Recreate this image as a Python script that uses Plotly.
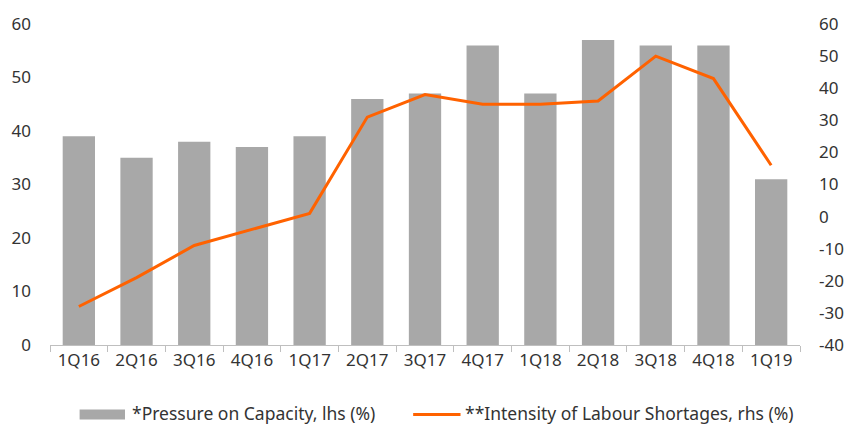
import plotly.graph_objects as go

quarters = ["1Q16", "2Q16", "3Q16", "4Q16", "1Q17", "2Q17", "3Q17",
            "4Q17", "1Q18", "2Q18", "3Q18", "4Q18", "1Q19"]
pressure_on_capacity = [39, 35, 38, 37, 39, 46, 47, 56, 47, 57, 56, 56, 31]
labour_shortages = [-28, -19, -9, -4, 1, 31, 38, 35, 35, 36, 50, 43, 16]
rhs_ticks = list(range(-40, 61, 10))

bar_name = "*Pressure on Capacity, lhs (%)"
line_name = "**Intensity of Labour Shortages, rhs (%)"

FONT = "Noto Sans"
TEXT = "#333333"
BAR_COLOR = "#A8A8A8"
LINE_COLOR = "#FF6200"

W, H = 856, 425
L, R, T, B = 49, 47, 22, 80
PW, PH = W - L - R, H - T - B


def px_x(x):
    return (x - L) / PW


def px_y(y):
    return (H - B - y) / PH


fig = go.Figure()
fig.add_trace(go.Bar(
    x=quarters, y=pressure_on_capacity, name=bar_name,
    marker=dict(color=BAR_COLOR, line=dict(width=0)),
    yaxis="y", showlegend=False,
))
fig.add_trace(go.Scatter(
    x=quarters, y=labour_shortages, name=line_name, mode="lines",
    line=dict(color=LINE_COLOR, width=3),
    yaxis="y2", showlegend=False,
))

# legend drawn below the plot: wide swatches followed by labels
fig.add_shape(type="rect", xref="paper", yref="paper",
              x0=px_x(79), x1=px_x(125), y0=px_y(410), y1=px_y(420),
              fillcolor=BAR_COLOR, line=dict(width=0))
fig.add_shape(type="line", xref="paper", yref="paper",
              x0=px_x(417), x1=px_x(465), y0=px_y(415), y1=px_y(415),
              line=dict(color=LINE_COLOR, width=3))
fig.add_annotation(text=bar_name, xref="paper", yref="paper",
                   x=px_x(130), y=px_y(413), xanchor="left", yanchor="middle",
                   showarrow=False, font=dict(size=17.5, color=TEXT))
fig.add_annotation(text=line_name, xref="paper", yref="paper",
                   x=px_x(468), y=px_y(413), xanchor="left", yanchor="middle",
                   showarrow=False, font=dict(size=17.5, color=TEXT))

fig.update_layout(
    width=W, height=H,
    margin=dict(l=L, r=R, t=T, b=B),
    paper_bgcolor="white", plot_bgcolor="white",
    font=dict(family=FONT, size=17, color=TEXT),
    bargap=0.44,
    showlegend=False,
    xaxis=dict(
        showgrid=False, showline=True, linecolor="#BFBFBF", linewidth=1,
        ticks="outside", tickson="boundaries", ticklen=6, tickcolor="#BFBFBF",
        tickfont=dict(size=17, color=TEXT),
    ),
    yaxis=dict(
        range=[0, 60], dtick=10, showgrid=False, zeroline=False,
        tickfont=dict(size=17, color=TEXT), ticks="", ticklabelstandoff=18,
    ),
    yaxis2=dict(
        range=[-40, 60], showgrid=False, zeroline=False,
        overlaying="y", side="right",
        tickmode="array", tickvals=rhs_ticks,
        ticktext=[str(v) for v in rhs_ticks],
        tickfont=dict(size=17, color=TEXT), ticks="", ticklabelstandoff=18,
    ),
)

fig.write_html("out.html")
